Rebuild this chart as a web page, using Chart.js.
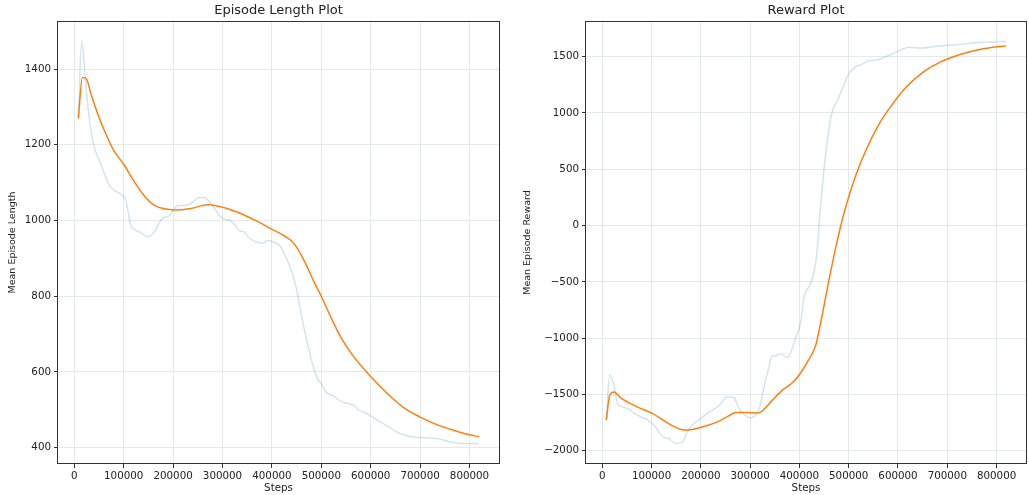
<!DOCTYPE html>
<html><head><meta charset="utf-8">
<script src="https://cdn.jsdelivr.net/npm/chart.js@4.4.1/dist/chart.umd.min.js"></script>
<style>
html,body{margin:0;padding:0;background:#fff;width:1029px;height:495px;overflow:hidden}
.box{position:absolute;top:0;height:495px}
</style></head><body>
<div class="box" style="left:0;width:510px"><canvas id="c1" width="510" height="495"></canvas></div>
<div class="box" style="left:515px;width:514px"><canvas id="c2" width="514" height="495"></canvas></div>
<script>
// ---- data ----
const xTicks = [0, 100000, 200000, 300000, 400000, 500000, 600000, 700000, 800000];
const lenTicks = [400, 600, 800, 1000, 1200, 1400];
const rewTicks = [-2000, -1500, -1000, -500, 0, 500, 1000, 1500];

const lenRawX = [8192, 15000, 21600, 27000, 31750, 40500, 50700, 60800, 70900, 81000, 94600, 104700, 109500, 113500, 123000, 135000, 147300, 162200, 171000, 181000, 190500, 199300, 209500, 226400, 240000, 253400, 263500, 273600, 283800, 296000, 304000, 314200, 324300, 334500, 343200, 352700, 364900, 380400, 391900, 402000, 418000, 428000, 441500, 451600, 461700, 471800, 481800, 492000, 500000, 508700, 517500, 525500, 532300, 545700, 559200, 569300, 574000, 586000, 599500, 619700, 639900, 656700, 670100, 687000, 700400, 734000, 747500, 767700, 787800, 808000, 819200];
const lenRawY = [1270, 1475, 1387, 1308, 1255, 1194, 1159, 1124, 1093, 1080, 1069, 1053, 1018, 990, 975, 968, 957, 970, 992, 1008, 1011, 1025, 1039, 1040, 1049, 1061, 1061, 1049, 1032, 1010, 1003, 1001, 990, 973, 971, 955, 945, 940, 947, 944, 930, 904, 860, 807, 737, 676, 623, 583, 568, 548, 540, 537, 528, 520, 515, 509, 501, 494, 485, 468, 452, 439, 433, 428, 427, 424, 420, 414, 411, 411, 410];
const lenSmoothX = [8192, 16384, 24576, 33800, 47300, 60800, 77700, 101350, 121600, 141900, 162200, 182400, 202700, 236500, 270300, 304000, 337800, 371600, 398600, 424700, 444900, 465000, 485200, 500000, 518800, 539000, 565900, 600000, 633000, 666800, 700000, 734000, 767700, 800000, 819200];
const lenSmoothY = [1270, 1378, 1374, 1334, 1282, 1238, 1190, 1146, 1102, 1065, 1040, 1031, 1028, 1032, 1042, 1034, 1018, 997, 978, 960, 939, 895, 838, 800, 746, 693, 640, 588, 544, 506, 481, 461, 446, 434, 429];

const rewRawX = [8192, 14900, 23700, 30500, 37200, 50800, 64300, 77800, 94800, 104900, 115100, 125200, 135400, 147500, 162400, 172600, 182700, 199700, 213200, 226700, 240300, 253800, 267300, 277500, 289700, 301200, 311300, 319500, 328300, 338400, 345200, 352000, 360700, 375600, 392600, 402700, 409500, 423000, 433200, 437000, 441000, 445500, 451000, 458500, 465300, 476900, 488400, 499300, 514300, 524500, 538100, 558500, 572100, 595900, 623100, 650300, 677600, 718400, 752400, 786400, 819200];
const rewRawY = [-1728, -1328, -1417, -1574, -1604, -1624, -1663, -1698, -1734, -1772, -1831, -1882, -1891, -1935, -1926, -1831, -1772, -1713, -1669, -1630, -1586, -1521, -1530, -1624, -1683, -1707, -1686, -1609, -1432, -1254, -1151, -1160, -1136, -1172, -994, -855, -633, -515, -330, -170, 80, 290, 549, 815, 992, 1110, 1228, 1340, 1411, 1426, 1459, 1470, 1494, 1538, 1583, 1577, 1592, 1606, 1621, 1630, 1636];
const rewSmoothX = [8192, 14900, 23700, 37200, 67700, 101500, 128600, 148900, 165800, 182700, 209800, 236900, 257200, 270700, 291000, 314700, 324900, 345200, 365500, 385800, 399300, 416200, 433200, 444200, 459900, 476900, 493900, 514300, 534700, 561900, 589100, 616300, 650300, 684400, 718400, 752400, 786400, 819200];
const rewSmoothY = [-1728, -1512, -1479, -1530, -1604, -1669, -1743, -1793, -1817, -1811, -1781, -1737, -1689, -1660, -1660, -1666, -1645, -1550, -1462, -1396, -1328, -1210, -1062, -840, -485, -131, 165, 445, 667, 903, 1080, 1228, 1361, 1450, 1509, 1550, 1580, 1594];

// ---- chart construction ----
const FONT = "'DejaVu Sans', sans-serif";
const pts = (xs, ys) => xs.map((x, i) => ({x, y: ys[i]}));
const fmt = v => (v < 0 ? '\u2212' + Math.abs(v) : String(v));

const framePlugin = {
  id: 'frame',
  afterDraw(chart) {
    const a = chart.chartArea, c = chart.ctx;
    c.save();
    c.strokeStyle = '#333';
    c.lineWidth = 1;
    c.strokeRect(Math.round(a.left) - 0.5, Math.round(a.top) + 0.5, Math.round(a.right - a.left) + 1, Math.round(a.bottom - a.top) - 1);
    c.restore();
  }
};

function makeChart(id, title, yTitle, raw, smooth, yMin, yMax, yTickVals, axisW, padRight) {
  return new Chart(document.getElementById(id), {
    type: 'line',
    data: {
      datasets: [
        {data: smooth, borderColor: '#ff7f0e', borderWidth: 1.5, pointRadius: 0, cubicInterpolationMode: 'monotone', order: 0},
        {data: raw, borderColor: 'rgba(31,119,180,0.2)', borderWidth: 1.5, pointRadius: 0, cubicInterpolationMode: 'monotone', order: 1}
      ]
    },
    options: {
      responsive: false,
      animation: false,
      events: [],
      layout: {padding: {left: 0, right: padRight, top: 0, bottom: 0}},
      plugins: {
        legend: {display: false},
        tooltip: {enabled: false},
        title: {display: true, fullSize: false, text: title, color: '#222', font: {family: FONT, size: 13, weight: 'normal'}, padding: {top: 3, bottom: 2.4}}
      },
      scales: {
        x: {
          type: 'linear', min: -33000, max: 859700,
          afterBuildTicks: s => { s.ticks = xTicks.map(v => ({value: v})); },
          afterFit: s => { s.height = 31; },
          ticks: {callback: v => fmt(v), color: '#222', font: {family: FONT, size: 10.3}, padding: 2, maxRotation: 0, autoSkip: false},
          grid: {color: '#e6e9ec', lineWidth: 1, tickColor: '#333', tickLength: 4, drawTicks: true},
          border: {display: false},
          title: {display: true, text: 'Steps', color: '#222', font: {family: FONT, size: 10.3}, padding: {top: 0, bottom: 0}}
        },
        y: {
          type: 'linear', min: yMin, max: yMax,
          afterBuildTicks: s => { s.ticks = yTickVals.map(v => ({value: v})); },
          afterFit: s => { s.width = axisW; },
          ticks: {callback: v => fmt(v), color: '#222', font: {family: FONT, size: 10.3}, padding: 3, autoSkip: false},
          grid: {color: '#e6e9ec', lineWidth: 1, tickColor: '#333', tickLength: 4, drawTicks: true},
          border: {display: false},
          title: {display: true, text: yTitle, color: '#222', font: {family: FONT, size: 9.5}, padding: {top: 7, bottom: 0}}
        }
      }
    },
    plugins: [framePlugin]
  });
}

makeChart('c1', 'Episode Length Plot', 'Mean Episode Length', pts(lenRawX, lenRawY), pts(lenSmoothX, lenSmoothY), 357, 1527, lenTicks, 58, 11);
makeChart('c2', 'Reward Plot', 'Mean Episode Reward', pts(rewRawX, rewRawY), pts(rewSmoothX, rewSmoothY), -2118, 1817, rewTicks, 71, 3);
</script>
</body></html>
